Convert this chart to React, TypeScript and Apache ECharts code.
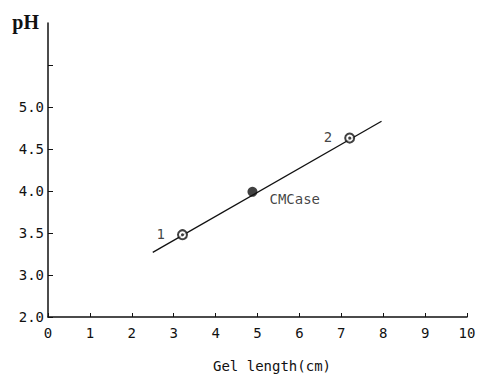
import React, { useEffect, useRef } from "react";
import * as echarts from "echarts";

const xTicks = [0, 1, 2, 3, 4, 5, 6, 7, 8, 9, 10];
// The y axis is broken: its lowest tick (value 2.5 on the scale) is labelled "2.0"
const yLabelMap: Record<string, string> = { "2.5": "2.0", "3": "3.0", "3.5": "3.5", "4": "4.0", "4.5": "4.5", "5": "5.0" };
const yTickValues = [2.5, 3, 3.5, 4, 4.5, 5, 5.5];
const openX = [3.21, 7.2];
const openY = [3.48, 4.63];
const openNames = ["1", "2"];
const filledX = [4.88];
const filledY = [3.99];
const filledNames = ["CMCase"];
const fitX = [2.5, 7.96];
const fitY = [3.27, 4.83];

const mono = "DejaVu Sans Mono";

export default function App() {
  const ref = useRef<HTMLDivElement>(null);
  useEffect(() => {
    const chart = echarts.init(ref.current!, null, { renderer: "svg" });
    chart.setOption({
      animation: false,
      backgroundColor: "#fff",
      grid: { left: 48, right: 13, top: 23, bottom: 60 },
      xAxis: {
        type: "value",
        min: xTicks[0],
        max: xTicks[xTicks.length - 1],
        interval: 1,
        name: "Gel length(cm)",
        nameLocation: "middle",
        nameGap: 42,
        nameTextStyle: { fontFamily: mono, fontSize: 14, color: "#111", padding: [0, 0, 0, 29] },
        axisLine: { lineStyle: { color: "#111", width: 1.5 } },
        axisTick: { inside: true, length: 4, lineStyle: { color: "#111" } },
        axisLabel: { fontFamily: mono, fontSize: 14, color: "#111", margin: 9 },
        splitLine: { show: false },
      },
      yAxis: {
        type: "value",
        min: 2.5,
        max: 6.0,
        interval: 0.5,
        name: "pH",
        nameLocation: "end",
        nameGap: 11,
        nameTextStyle: {
          fontFamily: "Liberation Serif",
          fontWeight: "bold",
          fontSize: 20,
          color: "#111",
          align: "right",
          verticalAlign: "top",
          padding: [0, 9, 0, 0],
        },
        axisLine: { show: true, lineStyle: { color: "#111", width: 1.5 } },
        axisTick: {
          show: true,
          inside: true,
          length: 5,
          lineStyle: { color: "#111" },
          customValues: yTickValues,
        },
        axisLabel: {
          fontFamily: mono,
          fontSize: 14,
          color: "#111",
          margin: 4,
          formatter: (v: number) => yLabelMap[String(v)] ?? "",
        },
        splitLine: { show: false },
      },
      series: [
        {
          type: "line",
          data: fitX.map((x, i) => [x, fitY[i]]),
          symbol: "none",
          lineStyle: { color: "#111", width: 1.3 },
          silent: true,
        },
        {
          type: "scatter",
          data: openX.map((x, i) => ({ value: [x, openY[i]], name: openNames[i] })),
          symbol: "circle",
          symbolSize: 9,
          itemStyle: { color: "#fff", borderColor: "#111", borderWidth: 2 },
          label: {
            show: true,
            formatter: (p: any) => p.name,
            position: "left",
            distance: 12,
            fontFamily: mono,
            fontSize: 14,
            color: "#111",
            offset: [0, -1],
          },
          z: 5,
        },
        {
          type: "scatter",
          data: openX.map((x, i) => [x, openY[i]]),
          symbol: "circle",
          symbolSize: 3,
          itemStyle: { color: "#111" },
          silent: true,
          z: 6,
        },
        {
          type: "scatter",
          data: filledX.map((x, i) => ({ value: [x, filledY[i]], name: filledNames[i] })),
          symbol: "circle",
          symbolSize: 10,
          itemStyle: { color: "#111" },
          label: {
            show: true,
            formatter: (p: any) => p.name,
            position: "right",
            distance: 12,
            fontFamily: mono,
            fontSize: 14,
            color: "#111",
            offset: [0, 7],
          },
          z: 5,
        },
      ],
    });
    return () => chart.dispose();
  }, []);
  return (
    <div
      ref={ref}
      style={{ position: "absolute", left: 0, top: 0, width: 480, height: 378 }}
    />
  );
}
